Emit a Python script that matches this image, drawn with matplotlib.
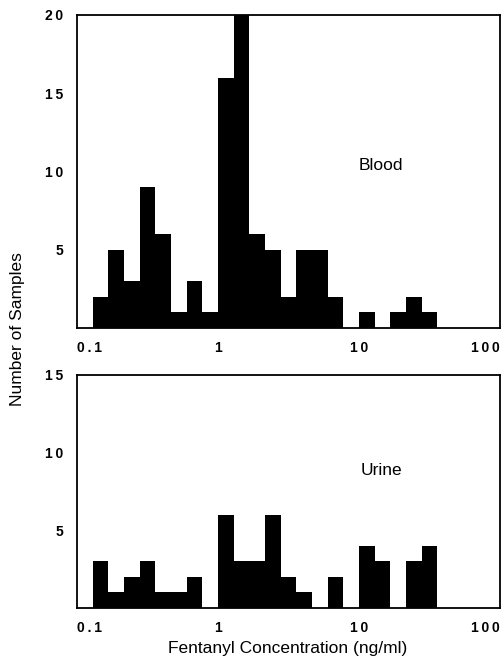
import numpy as np
import matplotlib
matplotlib.use("Agg")
import matplotlib.pyplot as plt
from matplotlib.ticker import FixedLocator, NullLocator, FixedFormatter

plt.rcParams['font.family'] = ['Liberation Sans', 'DejaVu Sans']

# bins are 9 per decade on a log scale, 0.129 .. 35.9 ng/ml
edges = 10 ** (np.arange(-8, 15) / 9)

blood_counts = [2, 5, 3, 9, 6, 1, 3, 1, 16, 20, 6, 5, 2, 5, 5, 2, 0, 1, 0, 1, 2, 1]
urine_counts = [3, 1, 2, 3, 1, 1, 2, 0, 6, 3, 3, 6, 2, 1, 0, 2, 0, 4, 3, 0, 3, 4]

x_ticks = [0.1, 1, 10, 100]
x_labels = ['0.1', '1', '10', '100']
blood_yticks = [5, 10, 15, 20]
urine_yticks = [5, 10, 15]


def spaced(s):
    # the original's digits are set loosely
    return '\u2009'.join(s)


fig = plt.figure(figsize=(5.03, 6.58), dpi=100)
ax1 = fig.add_axes([77 / 503, 1 - 328 / 658, 423 / 503, 313 / 658])
ax2 = fig.add_axes([77 / 503, 1 - 608 / 658, 423 / 503, 233 / 658])


def panel(ax, counts, yticks, ymax, name, name_y):
    ax.bar(edges[:-1], counts, width=np.diff(edges), align='edge',
           color='black', edgecolor='black', linewidth=0)
    ax.set_xscale('log')
    ax.set_xlim(0.1, 100)
    ax.set_ylim(0, ymax)
    ax.xaxis.set_major_locator(FixedLocator(x_ticks))
    ax.xaxis.set_major_formatter(FixedFormatter([spaced(s) for s in x_labels]))
    ax.xaxis.set_minor_locator(NullLocator())
    ax.set_yticks(yticks)
    ax.set_yticklabels([spaced(str(v)) for v in yticks])
    ax.tick_params(axis='both', length=0, labelsize=10)
    ax.tick_params(axis='y', pad=10)
    ax.tick_params(axis='x', pad=9)
    for lab in ax.get_xticklabels() + ax.get_yticklabels():
        lab.set_fontweight('bold')
    xl = ax.get_xticklabels()
    xl[0].set_horizontalalignment('left')
    xl[-1].set_horizontalalignment('right')
    for s in ax.spines.values():
        s.set_linewidth(1.3)
    ax.text(0.719, name_y, name, transform=ax.transAxes, ha='center',
            va='center', fontsize=12.5)


panel(ax1, blood_counts, blood_yticks, 20, 'Blood', 0.52)
panel(ax2, urine_counts, urine_yticks, 15, 'Urine', 0.59)

fig.text(0.034, 0.5, 'Number of Samples', rotation=90, ha='center',
         va='center', fontsize=12.5)
fig.text(288 / 503, 1 - 648 / 658, 'Fentanyl Concentration (ng/ml)',
         ha='center', va='center', fontsize=12.5)

fig.savefig('out.png', dpi=100)
